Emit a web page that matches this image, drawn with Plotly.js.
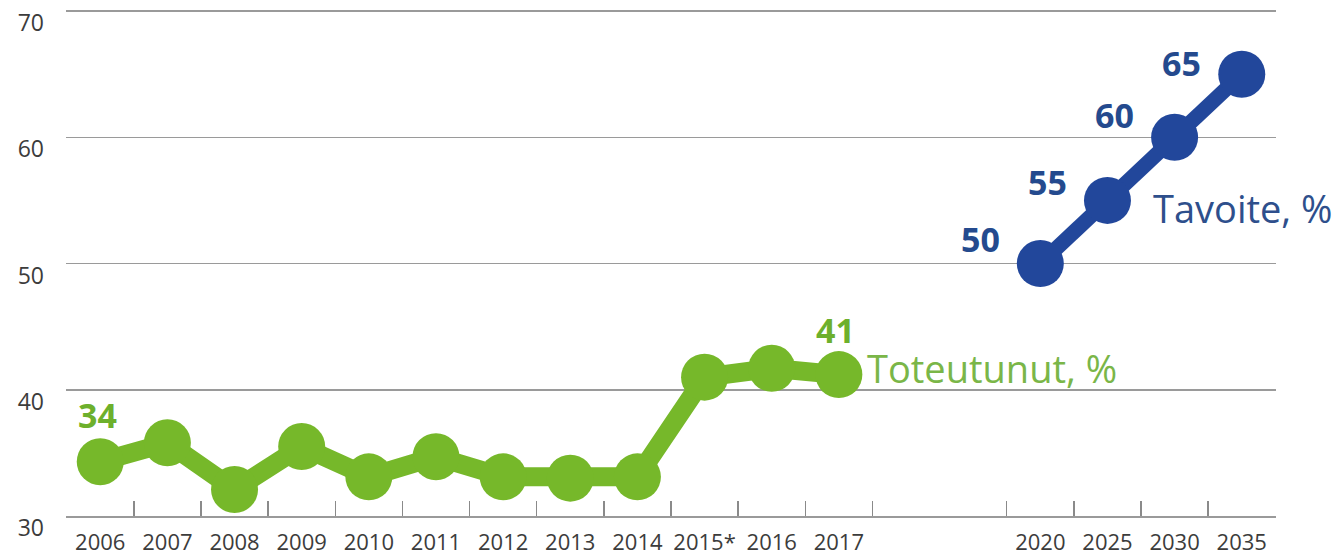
<!DOCTYPE html>
<html>
<head>
<meta charset="utf-8">
<script src="https://cdn.plot.ly/plotly-3.0.1.min.js"></script>
<style>
html,body{margin:0;padding:0;background:#ffffff;}
#chart{width:1338px;height:560px;}
</style>
</head>
<body>
<div id="chart"></div>
<script>
// ---- data ----
const actualYears  = ['2006','2007','2008','2009','2010','2011','2012','2013','2014','2015*','2016','2017'];
const actualValues = [34.3, 35.8, 32.1, 35.5, 33.1, 34.7, 33.1, 33.0, 33.1, 41.0, 41.7, 41.2];
const targetYears  = ['2020','2025','2030','2035'];
const targetValues = [50, 55, 60, 65];
const yTickValues  = [30, 40, 50, 60, 70];
const actualName = 'Toteutunut, %';
const targetName = 'Tavoite, %';

// ---- axis mapping (category slots with an empty gap between the series) ----
const gapSlots = 2;
const actualX = actualYears.map((_, i) => i);
const targetX = targetYears.map((_, i) => actualYears.length + gapSlots + i);
const allX = actualX.concat(targetX);
const allLabels = actualYears.concat(targetYears);
const halfTicks = [];
actualX.forEach(v => { halfTicks.push(v - 0.5); });
halfTicks.push(actualX[actualX.length - 1] + 0.5);
targetX.forEach(v => { halfTicks.push(v - 0.5); });
halfTicks.push(targetX[targetX.length - 1] + 0.5);
const xRange = [allX[0] - 0.51, allX[allX.length - 1] + 0.51];

const green = '#76b82a';
const blue = '#22479b';

const traces = [
  {
    x: actualX, y: actualValues, type: 'scatter', mode: 'lines+markers',
    name: actualName,
    line: {color: green, width: 19},
    marker: {color: green, size: 47},
    cliponaxis: false, hoverinfo: 'skip'
  },
  {
    x: targetX, y: targetValues, type: 'scatter', mode: 'lines+markers',
    name: targetName,
    line: {color: blue, width: 15},
    marker: {color: blue, size: 47},
    cliponaxis: false, hoverinfo: 'skip'
  },
  { // empty trace that only carries the tick-mark axis
    x: [], y: [], xaxis: 'x2', yaxis: 'y', type: 'scatter', mode: 'markers',
    hoverinfo: 'skip', showlegend: false
  }
];

const numFont = {family: 'Open Sans, sans-serif', size: 34, color: '#6db02c', weight: 700};
const blueNumFont = {family: 'Open Sans, sans-serif', size: 34, color: '#244a8e', weight: 700};
const blueLabelShiftY = [25, 18, 22, 11];

const annotations = [];
annotations.push({x: actualX[0], y: actualValues[0], xref: 'x', yref: 'y',
  text: String(Math.round(actualValues[0])), showarrow: false, xshift: -3, yshift: 47, font: numFont});
const li = actualX.length - 1;
annotations.push({x: actualX[li], y: actualValues[li], xref: 'x', yref: 'y',
  text: String(Math.round(actualValues[li])), showarrow: false, xshift: -3, yshift: 45, font: numFont});
annotations.push({x: actualX[li], y: actualValues[li], xref: 'x', yref: 'y',
  text: actualName, showarrow: false, xanchor: 'left', xshift: 26, yshift: 7,
  font: {family: 'Open Sans, sans-serif', size: 38, color: '#7ab648'}});
targetX.forEach((xv, i) => {
  annotations.push({x: xv, y: targetValues[i], xref: 'x', yref: 'y',
    text: String(targetValues[i]), showarrow: false, xshift: -60, yshift: blueLabelShiftY[i], font: blueNumFont});
});
annotations.push({x: targetX[1], y: targetValues[1], xref: 'x', yref: 'y',
  text: targetName, showarrow: false, xanchor: 'left', xshift: 44, yshift: -8,
  font: {family: 'Open Sans, sans-serif', size: 38, color: '#2e4f8c'}});

const layout = {
  width: 1338, height: 560,
  margin: {l: 66, r: 62, t: 6, b: 44},
  paper_bgcolor: '#ffffff', plot_bgcolor: '#ffffff',
  showlegend: false,
  font: {family: 'Open Sans, sans-serif', color: '#3c3c3c'},
  xaxis: {
    range: xRange,
    tickmode: 'array', tickvals: allX, ticktext: allLabels,
    ticks: '', showgrid: false, zeroline: false,
    showline: true, linecolor: '#9a9a9a', linewidth: 2,
    tickfont: {family: 'Open Sans, sans-serif', size: 22, color: '#3c3c3c'},
    ticklabelstandoff: 6,
    fixedrange: true
  },
  xaxis2: {
    overlaying: 'x', anchor: 'y', side: 'bottom',
    range: xRange,
    tickmode: 'array', tickvals: halfTicks,
    ticks: 'inside', ticklen: 15, tickwidth: 1.5, tickcolor: '#8a8a8a',
    showticklabels: false, showgrid: false, zeroline: false, showline: false,
    fixedrange: true
  },
  yaxis: {
    range: [30, 70.4],
    tickmode: 'array', tickvals: yTickValues,
    ticks: '', showgrid: true, gridcolor: '#9a9a9a', gridwidth: 1.5,
    zeroline: false, showline: false,
    tickfont: {family: 'Open Sans, sans-serif', size: 23, color: '#3c3c3c'},
    ticklabelshift: 12, ticklabelstandoff: 21,
    fixedrange: true
  },
  annotations: annotations
};

Plotly.newPlot('chart', traces, layout, {displayModeBar: false, staticPlot: true});
</script>
</body>
</html>
